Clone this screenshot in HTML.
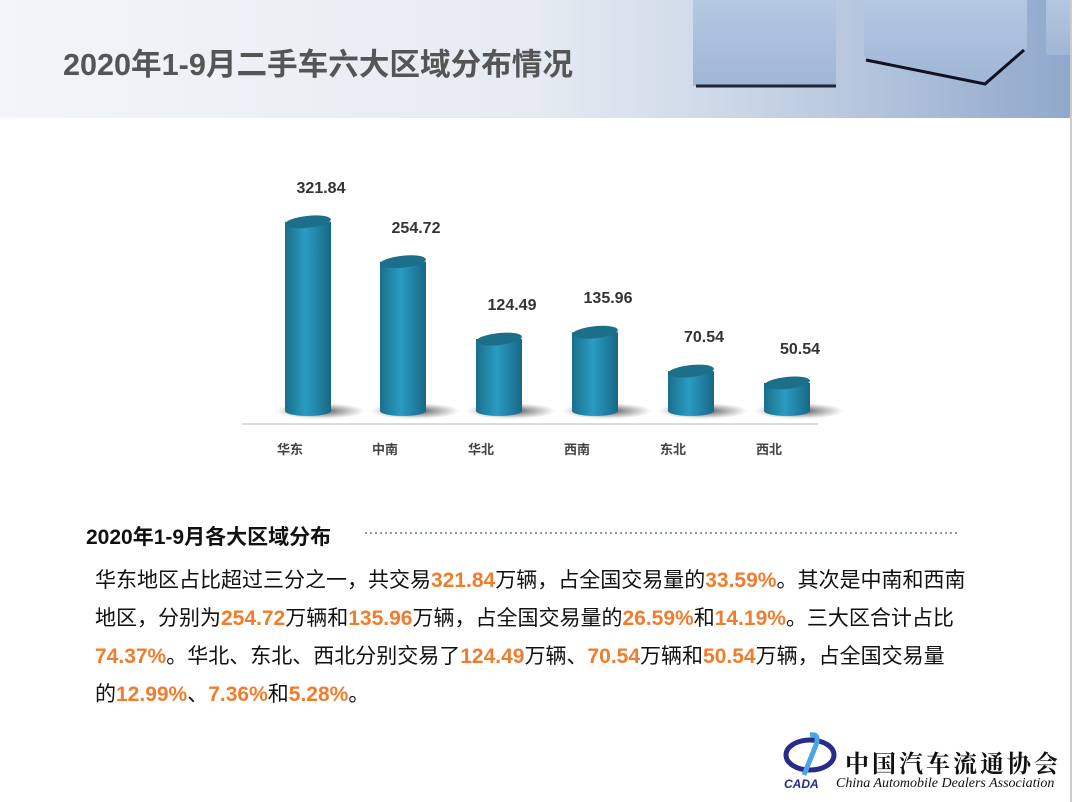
<!DOCTYPE html>
<html><head><meta charset="utf-8"><style>
body{margin:0;width:1072px;height:802px;position:relative;overflow:hidden;background:#fff;font-family:"Liberation Sans","Noto Sans CJK SC",sans-serif;}
.hdr{position:absolute;left:0;top:0;width:1072px;height:118px;background:linear-gradient(90deg,#f3f5f8 0%,#e6ebf2 50%,#c9d5e6 70%,#8fa8cc 100%);}
.title{position:absolute;left:63px;top:40px;font-size:30.6px;font-weight:bold;color:#555;white-space:nowrap;}
.p{position:absolute;left:95px;font-size:21px;color:#111;white-space:nowrap;}
.o{color:#f07d2e;font-weight:bold;}
.lbl{position:absolute;font-size:16px;font-weight:bold;color:#333;width:80px;text-align:center;}
.cat{position:absolute;font-size:13px;font-weight:bold;color:#444;width:80px;text-align:center;top:439px;}
</style></head><body>
<div class="hdr">
<svg width="1072" height="118" style="position:absolute;left:0;top:0">
<defs><linearGradient id="cb" x1="0" x2="0" y1="0" y2="1"><stop offset="0" stop-color="#b5c8e2"/><stop offset="1" stop-color="#9fb6d6"/></linearGradient></defs>
<rect x="693" y="0" width="143" height="86" fill="url(#cb)"/>
<line x1="696" y1="86" x2="836" y2="86" stroke="#223" stroke-width="3"/>
<path d="M864 0 L1027 0 L1027 48 L985 84 L870 62 Q863 58 864 50Z" fill="url(#cb)"/>
<path d="M866 60 L985 84 L1024 50" stroke="#112" stroke-width="3" fill="none"/>
<rect x="1046" y="0" width="26" height="55" fill="url(#cb)"/>
</svg>
<div class="title">2020年1-9月二手车六大区域分布情况</div>
</div>
<svg width="1072" height="802" style="position:absolute;left:0;top:0">
<defs>
<linearGradient id="bar" x1="0" x2="1"><stop offset="0" stop-color="#1a6f8a"/><stop offset="0.45" stop-color="#2a9cc3"/><stop offset="1" stop-color="#176784"/></linearGradient>
<radialGradient id="sh"><stop offset="0" stop-color="#333" stop-opacity=".9"/><stop offset="1" stop-color="#666" stop-opacity="0"/></radialGradient>
</defs>
<line x1="242" y1="424" x2="818" y2="424" stroke="#d0d0d0" stroke-width="1.5"/>
<g id="bars"></g>
<line x1="365" y1="533" x2="960" y2="533" stroke="#8aa0a8" stroke-width="2" stroke-dasharray="2,3"/>
</svg>
<script>
var d=[321.84,254.72,124.49,135.96,70.54,50.54],cx=[308,403,499,595,691,787],g=document.getElementById('bars'),s='';
d.forEach(function(v,i){var t=413-v*0.594,x=cx[i];
s+='<ellipse cx="'+(x+12)+'" cy="411" rx="45" ry="8" fill="url(#sh)"/>';
s+='<path d="M'+(x-23)+' '+t+' L'+(x-23)+' 411 A23 5 0 0 0 '+(x+23)+' 411 L'+(x+23)+' '+t+'Z" fill="url(#bar)"/>';
s+='<ellipse cx="'+x+'" cy="'+t+'" rx="23" ry="6" transform="rotate(-6 '+x+' '+t+')" fill="#1c6f88"/>';
var l=document.createElement('div');l.className='lbl';l.style.left=(x-40+13)+'px';l.style.top=(t-42)+'px';l.textContent=v.toFixed(2);document.body.appendChild(l);
});
g.innerHTML=s;
['华东','中南','华北','西南','东北','西北'].forEach(function(c,i){var l=document.createElement('div');l.className='cat';l.style.left=(cx[i]-58)+'px';l.textContent=c;document.body.appendChild(l);});
</script>
<div style="position:absolute;left:86px;top:521px;font-size:21px;font-weight:bold;color:#111;white-space:nowrap">2020年1-9月各大区域分布</div>
<div class="p" style="top:564px">华东地区占比超过三分之一，共交易<span class="o">321.84</span>万辆，占全国交易量的<span class="o">33.59%</span>。其次是中南和西南</div>
<div class="p" style="top:602px">地区，分别为<span class="o">254.72</span>万辆和<span class="o">135.96</span>万辆，占全国交易量的<span class="o">26.59%</span>和<span class="o">14.19%</span>。三大区合计占比</div>
<div class="p" style="top:640px"><span class="o">74.37%</span>。华北、东北、西北分别交易了<span class="o">124.49</span>万辆、<span class="o">70.54</span>万辆和<span class="o">50.54</span>万辆，占全国交易量</div>
<div class="p" style="top:678px">的<span class="o">12.99%</span>、<span class="o">7.36%</span>和<span class="o">5.28%</span>。</div>
<svg width="60" height="60" style="position:absolute;left:780px;top:730px"><ellipse cx="30" cy="25" rx="24" ry="15" fill="none" stroke="#2a2a8a" stroke-width="5"/><path d="M30 5 Q40 3 36 15 L24 45" stroke="#4aa6e0" stroke-width="5" fill="none"/><text x="4" y="58" font-size="12" font-weight="bold" font-style="italic" fill="#2a2a8a" font-family="Liberation Sans">CADA</text></svg>
<div style="position:absolute;left:845px;top:744px;font-size:24px;font-weight:bold;color:#111;letter-spacing:3px;white-space:nowrap;font-family:'Liberation Serif','Noto Serif CJK SC',serif">中国汽车流通协会</div>
<div style="position:absolute;left:836px;top:776px;font-size:14px;font-style:italic;color:#111;white-space:nowrap;font-family:'Liberation Serif',serif">China Automobile Dealers Association</div>
<div style="position:absolute;left:1070px;top:0;width:2px;height:802px;background:#ccc"></div>
</body></html>
